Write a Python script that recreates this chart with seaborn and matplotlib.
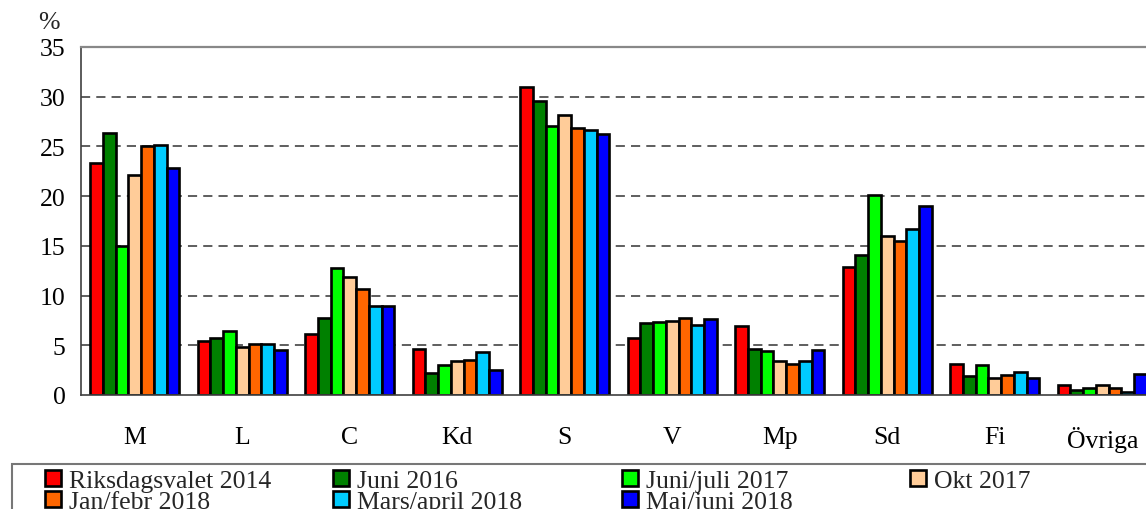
import matplotlib
matplotlib.use("Agg")
import matplotlib.pyplot as plt
import seaborn as sns
import pandas as pd
from matplotlib.patches import Rectangle
from matplotlib.ticker import FixedLocator, NullFormatter

# partier och mätningar
partier = ["M", "L", "C", "Kd", "S", "V", "Mp", "Sd", "Fi", "Övriga"]
perioder = ["Riksdagsvalet 2014", "Juni 2016", "Juni/juli 2017", "Okt 2017",
            "Jan/febr 2018", "Mars/april 2018", "Maj/juni 2018"]
farger = ["#FF0000", "#008000", "#00FF00", "#FFCC99", "#FF6600", "#00CCFF", "#0000FF"]

val_2014 = [23.3, 5.4, 6.1, 4.6, 31.0, 5.7, 6.9, 12.9, 3.1, 1.0]
jun_2016 = [26.4, 5.7, 7.7, 2.2, 29.6, 7.2, 4.6, 14.1, 1.9, 0.5]
jul_2017 = [15.0, 6.4, 12.8, 3.0, 27.1, 7.3, 4.4, 20.1, 3.0, 0.7]
okt_2017 = [22.1, 4.8, 11.9, 3.4, 28.2, 7.4, 3.4, 16.0, 1.7, 1.0]
feb_2018 = [25.0, 5.1, 10.7, 3.5, 26.9, 7.7, 3.1, 15.5, 2.0, 0.7]
apr_2018 = [25.1, 5.1, 9.0, 4.3, 26.7, 7.0, 3.4, 16.7, 2.3, 0.3]
jun_2018 = [22.8, 4.5, 9.0, 2.5, 26.3, 7.6, 4.5, 19.0, 1.7, 2.1]

serier = [val_2014, jun_2016, jul_2017, okt_2017, feb_2018, apr_2018, jun_2018]
rows = []
for per, vals in zip(perioder, serier):
    for p, v in zip(partier, vals):
        rows.append({"parti": p, "period": per, "andel": v})
df = pd.DataFrame(rows)

sns.set_style("white")
plt.rcParams["font.family"] = ["Liberation Serif", "DejaVu Serif"]
FS = 18.5

fig = plt.figure(figsize=(11.46, 5.10), dpi=100)
ax = fig.add_axes([81 / 1146, 114 / 510, 1075 / 1146, 348 / 510])

sns.barplot(data=df, x="parti", y="andel", hue="period", hue_order=perioder,
            palette=farger, width=0.83, edgecolor="black", linewidth=1.9,
            saturation=1, errorbar=None, ax=ax)

ax.set_ylim(0, 35)
ax.set_xlim(-0.5, 9.5)
ax.set_yticks(range(0, 36, 5))
ax.tick_params(axis="y", direction="inout", length=6.5, width=1, colors="#333333",
               labelsize=FS, pad=8, labelcolor="black")
# grupp-gränser som ticks, etiketter i mitten
ax.xaxis.set_major_locator(FixedLocator([i - 0.5 for i in range(11)]))
ax.xaxis.set_major_formatter(NullFormatter())
ax.xaxis.set_minor_locator(FixedLocator(range(10)))
ax.set_xticklabels(partier, minor=True)
ax.tick_params(axis="x", which="major", direction="out", length=5, width=1, colors="#333333")
ax.tick_params(axis="x", which="minor", length=0, labelsize=FS, pad=22, labelcolor="black")
ax.set_xlabel("")
ax.set_ylabel("")

for y in range(5, 35, 5):
    ax.axhline(y, color="#333333", lw=1.1, ls=(0, (6, 4)), zorder=0)

for s in ["left", "bottom"]:
    ax.spines[s].set_color("#404040")
    ax.spines[s].set_linewidth(1.2)
ax.spines["top"].set_color("#888888")
ax.spines["top"].set_linewidth(1.6)
ax.spines["right"].set_visible(False)

fig.text(49 / 1146, 1 - 23 / 510, "%", fontsize=FS, ha="center", va="center")

handles, labels = ax.get_legend_handles_labels()
ax.get_legend().remove()

# legendram
fig.patches.append(Rectangle((12 / 1146, -0.2), 1.2, 0.2 + 45 / 510, transform=fig.transFigure,
                             fill=False, edgecolor="#777777", lw=1.5))

kolumner = [[0, 4], [1, 5], [2, 6], [3]]
xpos = [45, 333, 622, 910]
for idx, x in zip(kolumner, xpos):
    leg = fig.legend([handles[i] for i in idx], [labels[i] for i in idx],
                     loc="upper left", bbox_to_anchor=(x / 1146, 1 - 471 / 510),
                     frameon=False, fontsize=FS, handlelength=0.62, handleheight=0.6,
                     handletextpad=0.3, labelspacing=-0.05, borderpad=0, borderaxespad=0)

fig.savefig("out.png", dpi=100)
